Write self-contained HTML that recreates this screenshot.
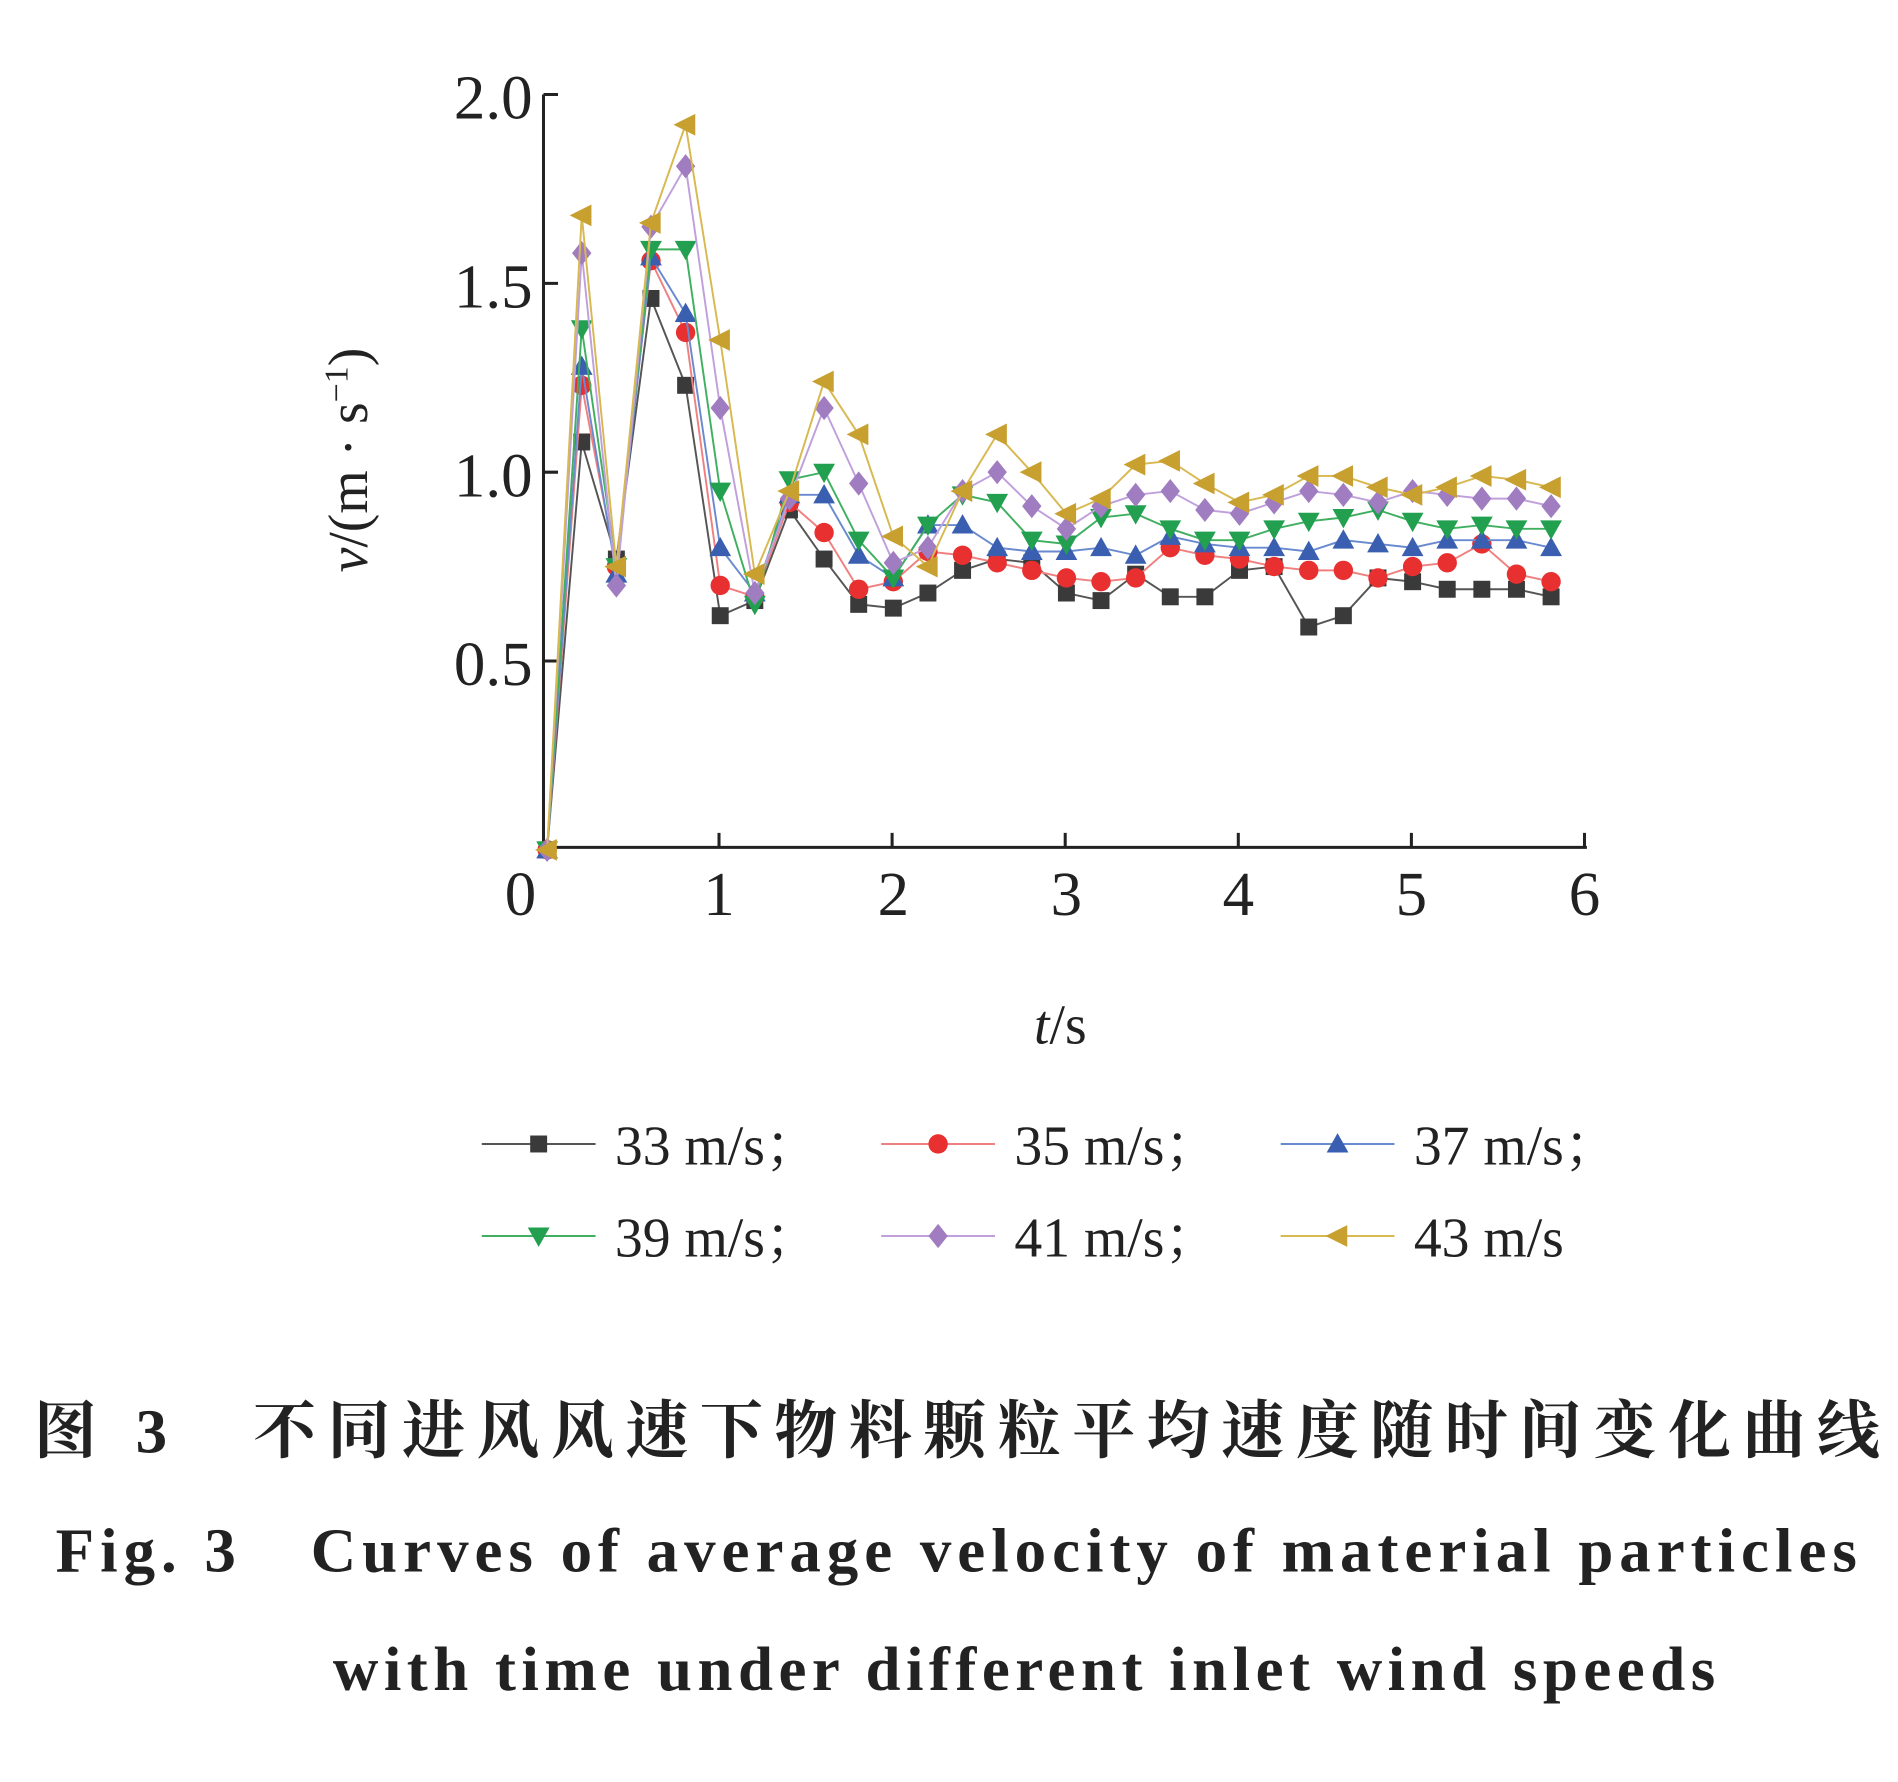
<!DOCTYPE html>
<html><head><meta charset="utf-8"><style>
html,body{margin:0;padding:0;background:#fff;}
svg{display:block;}
</style></head><body>
<svg id="s" width="1898" height="1782" viewBox="0 0 1568 1472" xmlns="http://www.w3.org/2000/svg" font-family="'Liberation Serif','Noto Serif CJK SC',serif">
<rect width="1568" height="1472" fill="#fff"/>
<g stroke="#222" stroke-width="2.5" fill="none">
<path d="M449,78 V700 H1311"/>
<path d="M449,78 h12 M449,234 h12 M449,390 h12 M449,546 h12"/>
<path d="M594,700 v-12 M737,700 v-12 M880,700 v-12 M1023,700 v-12 M1166,700 v-12 M1309,700 v-12"/>
</g>
<g font-size="52" fill="#222" text-anchor="end">
<text x="440" y="98">2.0</text><text x="440" y="254">1.5</text><text x="440" y="410">1.0</text><text x="440" y="566">0.5</text>
</g>
<g font-size="52" fill="#222" text-anchor="middle">
<text x="430" y="756">0</text><text x="594" y="756">1</text><text x="738" y="756">2</text><text x="881" y="756">3</text><text x="1023" y="756">4</text><text x="1166" y="756">5</text><text x="1309" y="756">6</text>
</g>
<text transform="translate(303,380) rotate(-90)" font-size="46" text-anchor="middle" fill="#222"><tspan font-style="italic">v</tspan>/(m · s<tspan font-size="28" dy="-16">−1</tspan><tspan dy="16">)</tspan></text>
<text x="876" y="862" font-size="46" text-anchor="middle" fill="#222"><tspan font-style="italic">t</tspan>/s</text>
<g id="series"></g>
<g id="legend"></g>
<g font-size="46" fill="#222">
<text x="508" y="962">33 m/s；</text><text x="838" y="962">35 m/s；</text><text x="1168" y="962">37 m/s；</text>
<text x="508" y="1038">39 m/s；</text><text x="838" y="1038">41 m/s；</text><text x="1168" y="1038">43 m/s</text>
</g>
<text x="28" y="1200" font-size="52" font-weight="bold" fill="#222" textLength="1525" font-family="'Liberation Serif','Noto Serif CJK SC',serif">图 3　不同进风风速下物料颗粒平均速度随时间变化曲线</text>
<text x="46" y="1298" font-size="52" font-weight="bold" fill="#222" textLength="1488">Fig. 3　Curves of average velocity of material particles</text>
<text x="275" y="1396" font-size="52" font-weight="bold" fill="#222" textLength="1142">with time under different inlet wind speeds</text>
</svg>
<script>
var D=[
["#3a3a3a","#555","sq",[0,1.08,0.77,1.46,1.23,0.62,0.66,0.90,0.77,0.65,0.64,0.68,0.74,0.77,0.76,0.68,0.66,0.73,0.67,0.67,0.74,0.75,0.59,0.62,0.72,0.71,0.69,0.69,0.69,0.67]],
["#e83030","#f08080","ci",[0,1.23,0.75,1.56,1.37,0.70,0.67,0.92,0.84,0.69,0.71,0.79,0.78,0.76,0.74,0.72,0.71,0.72,0.80,0.78,0.77,0.75,0.74,0.74,0.72,0.75,0.76,0.81,0.73,0.71]],
["#3a5fb0","#6a8ad0","up",[0,1.28,0.73,1.57,1.42,0.80,0.68,0.94,0.94,0.78,0.72,0.86,0.86,0.80,0.79,0.79,0.80,0.78,0.83,0.81,0.80,0.80,0.79,0.82,0.81,0.80,0.82,0.82,0.82,0.80]],
["#22a050","#40b060","dn",[0,1.38,0.75,1.59,1.59,0.95,0.65,0.98,1.00,0.82,0.72,0.86,0.94,0.92,0.82,0.81,0.88,0.89,0.85,0.82,0.82,0.85,0.87,0.88,0.90,0.87,0.85,0.86,0.85,0.85]],
["#a07cc0","#c0a0dc","di",[0,1.58,0.70,1.65,1.81,1.17,0.68,0.93,1.17,0.97,0.76,0.80,0.95,1.00,0.91,0.85,0.91,0.94,0.95,0.90,0.89,0.92,0.95,0.94,0.92,0.95,0.94,0.93,0.93,0.91]],
["#c8a030","#d8b850","lt",[0,1.68,0.75,1.66,1.92,1.35,0.73,0.95,1.24,1.10,0.83,0.75,0.95,1.10,1.00,0.89,0.93,1.02,1.03,0.97,0.92,0.94,0.99,0.99,0.96,0.94,0.96,0.99,0.98,0.96]]];
var NS="http://www.w3.org/2000/svg";
function mk(t,a,p){var e=document.createElementNS(NS,t);for(var k in a)e.setAttribute(k,a[k]);p.appendChild(e);return e;}
function mark(sh,x,y,c,p){
 if(sh=="sq")mk("rect",{x:x-7,y:y-7,width:14,height:14,fill:c},p);
 else if(sh=="ci")mk("circle",{cx:x,cy:y,r:8,fill:c},p);
 else if(sh=="up")mk("polygon",{points:(x)+","+(y-9)+" "+(x-9)+","+(y+7)+" "+(x+9)+","+(y+7),fill:c},p);
 else if(sh=="dn")mk("polygon",{points:(x)+","+(y+9)+" "+(x-9)+","+(y-7)+" "+(x+9)+","+(y-7),fill:c},p);
 else if(sh=="di")mk("polygon",{points:x+","+(y-10)+" "+(x+8)+","+y+" "+x+","+(y+10)+" "+(x-8)+","+y,fill:c},p);
 else mk("polygon",{points:(x-10)+","+y+" "+(x+8)+","+(y-9)+" "+(x+8)+","+(y+9),fill:c},p);}
var g=document.getElementById("series"),L=document.getElementById("legend");
D.forEach(function(s,i){var pts=s[3].map(function(v,j){return [452+j*0.2*143,702-v*312];});
 mk("polyline",{points:pts.map(function(p){return p.join(",")}).join(" "),fill:"none",stroke:s[1],"stroke-width":1.6},g);
 pts.forEach(function(p){mark(s[2],p[0],p[1],s[0],g);});
 var lx=398+(i%3)*330,ly=945+Math.floor(i/3)*76;
 mk("line",{x1:lx,y1:ly,x2:lx+94,y2:ly,stroke:s[1],"stroke-width":1.6},L);
 mark(s[2],lx+47,ly,s[0],L);});
</script>
</body></html>
